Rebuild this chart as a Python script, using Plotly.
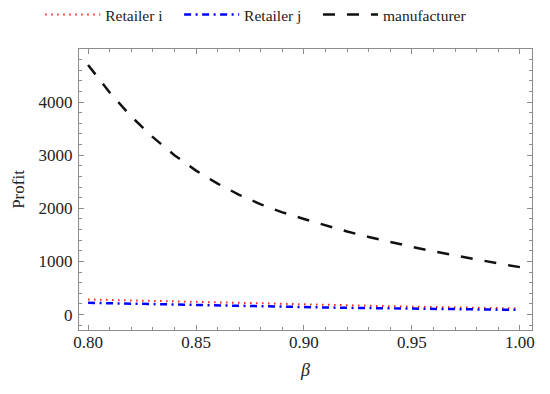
import plotly.graph_objects as go

# beta grid and profits
beta = [0.80, 0.81, 0.82, 0.83, 0.84, 0.85, 0.86, 0.87, 0.88, 0.89, 0.90,
        0.91, 0.92, 0.93, 0.94, 0.95, 0.96, 0.97, 0.98, 0.99, 1.00]
retailer_i = [285, 275, 265, 255, 245, 235, 226, 217, 208, 199, 190,
              182, 174, 166, 158, 150, 143, 136, 129, 122, 115]
retailer_j = [222, 213, 205, 197, 188, 180, 172, 164, 156, 148, 140,
              134, 128, 122, 116, 110, 106, 101, 97, 92, 88]
manufacturer = [4700, 4180, 3730, 3340, 3000, 2710, 2465, 2255, 2075, 1925, 1800,
                1675, 1563, 1461, 1366, 1276, 1191, 1111, 1034, 962, 894]

x_ticks = [0.80, 0.85, 0.90, 0.95, 1.00]
x_labels = ["0.80", "0.85", "0.90", "0.95", "1.00"]
y_ticks = [0, 1000, 2000, 3000, 4000]

serif = "Liberation Serif, Times New Roman, serif"
pad = "\u00a0" * 3

fig = go.Figure()
fig.add_trace(go.Scatter(x=beta, y=retailer_i, mode="lines", name="Retailer i" + pad,
                         line=dict(color="#ff2020", width=2, dash="1.5px,4.5px")))
fig.add_trace(go.Scatter(x=beta, y=retailer_j, mode="lines", name="Retailer j" + pad,
                         line=dict(color="#0000ff", width=2.5, dash="7px,4.5px,2px,4.5px")))
fig.add_trace(go.Scatter(x=beta, y=manufacturer, mode="lines", name="manufacturer",
                         line=dict(color="#111111", width=2.5, dash="12px,12px")))

axis_common = dict(
    showgrid=False, zeroline=False, showline=True, linecolor="#8c8c8c", linewidth=1.2,
    mirror="allticks", ticks="inside", ticklen=5, tickcolor="#8c8c8c", tickwidth=1,
    tickfont=dict(family=serif, size=17, color="#222"),
)

fig.update_xaxes(range=[0.7958, 1.0056], tickvals=x_ticks, ticktext=x_labels,
                 minor=dict(dtick=0.01, tick0=0.80, ticks="inside", ticklen=3,
                            tickcolor="#8c8c8c"),
                 title=dict(text="<i>β</i>", font=dict(family=serif, size=18, color="#222"),
                            standoff=12),
                 ticklabelstandoff=-4,
                 **axis_common)
fig.update_yaxes(range=[-290, 5000], tickvals=y_ticks,
                 minor=dict(dtick=200, tick0=0, ticks="inside", ticklen=3,
                            tickcolor="#8c8c8c"),
                 title=dict(text="Profit", font=dict(family=serif, size=17, color="#222"),
                            standoff=9),
                 ticklabelstandoff=2,
                 **axis_common)

# the page body adds an 8px offset, so the figure is 8px smaller on each side
fig.update_layout(
    width=542, height=386,
    margin=dict(l=71, r=18, t=41, b=64, autoexpand=False),
    paper_bgcolor="white", plot_bgcolor="white",
    font=dict(family=serif, color="#222"),
    legend=dict(orientation="h", x=0.458, xanchor="center", xref="container",
                y=0.982, yanchor="middle", yref="container",
                font=dict(family=serif, size=15.5, color="#222"),
                itemwidth=55, tracegroupgap=0),
    showlegend=True,
)

fig.write_html("out.html")
